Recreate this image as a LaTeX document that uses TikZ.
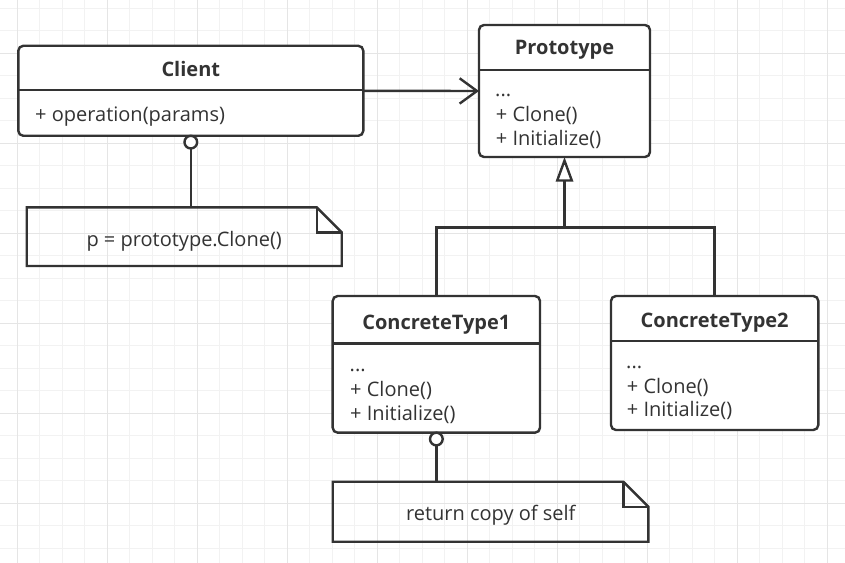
\documentclass[tikz,border=0pt]{standalone}
\usepackage{fontspec}
\setmainfont{Open Sans}
\usetikzlibrary{arrows.meta,calc}
\definecolor{ink}{HTML}{333333}
\definecolor{gridminor}{HTML}{F2F2F2}
\definecolor{gridmajor}{HTML}{E5E5E5}
\begin{document}
\begin{tikzpicture}[x=0.75pt,y=-0.75pt,
  line width=1.8pt,
  classbox/.style={draw=ink, rounded corners=3.75pt, fill=white, inner sep=0pt, outer sep=0pt},
  notebox/.style={inner sep=0pt, outer sep=0pt},
  notetext/.style={font=\fontsize{15}{18}\selectfont, anchor=base, inner sep=0pt, text=ink},
  aggcircle/.style={circle, draw=ink, fill=white, inner sep=0pt, outer sep=0pt, minimum size=9.5pt},
  titletext/.style={font=\fontsize{15}{18}\selectfont\bfseries, anchor=base, inner sep=0pt, text=ink},
  itemtext/.style={font=\fontsize{15}{18}\selectfont, anchor=base west, inner sep=0pt, text=ink},
  link/.style={draw=ink, line width=1.8pt},
]
\useasboundingbox (0,0) rectangle (845,563);
\fill[white] (0,0) rectangle (845,563);
\begin{scope}
\clip (0,0) rectangle (845,563);
\foreach \i in {-1,...,37} {
  \pgfmathsetmacro\gx{17.3+22.5*\i}
  \draw[gridminor, line width=0.75pt] (\gx,0) -- (\gx,563);
}
\foreach \j in {-1,...,25} {
  \pgfmathsetmacro\gy{8.3+22.5*\j}
  \draw[gridminor, line width=0.75pt] (0,\gy) -- (845,\gy);
}
\foreach \i in {0,...,9} {
  \pgfmathsetmacro\gx{17.3+90*\i}
  \draw[gridmajor, line width=0.9pt] (\gx,0) -- (\gx,563);
}
\foreach \j in {-1,...,6} {
  \pgfmathsetmacro\gy{53.3+90*\j}
  \draw[gridmajor, line width=0.9pt] (0,\gy) -- (845,\gy);
}
\end{scope}

% class boxes
\node[classbox, minimum width=258.75pt, minimum height=67.5pt] (client) at (190.8,90.8) {};
\node[classbox, minimum width=128.25pt, minimum height=99pt] (prototype) at (564.5,91) {};
\node[classbox, minimum width=155.5pt, minimum height=102.5pt] (ct1) at (436.35,364.35) {};
\node[classbox, minimum width=155.5pt, minimum height=100.5pt] (ct2) at (714.65,363) {};

% dividers
\draw[ink] ([yshift=-33.2pt]client.north west) -- ([yshift=-33.2pt]client.north east);
\draw[ink] ([yshift=-33.75pt]prototype.north west) -- ([yshift=-33.75pt]prototype.north east);
\draw[ink] ([yshift=-35.5pt]ct1.north west) -- ([yshift=-35.5pt]ct1.north east);
\draw[ink] ([yshift=-33.75pt]ct2.north west) -- ([yshift=-33.75pt]ct2.north east);

% titles
\node[titletext] (tclient) at (190.8,77) {Client};
\node[titletext] (tproto) at (564.5,55) {Prototype};
\node[titletext] (tct1) at (436.35,329) {ConcreteType1};
\node[titletext] (tct2) at (714.65,327) {ConcreteType2};

% members
\node[itemtext] (mclient) at (34,122) {+ operation(params)};
\node[itemtext] (p1) at (494,97) {...};
\node[itemtext] (p2) at (494.7,121.5) {+ Clone()};
\node[itemtext] (p3) at (494.7,146) {+ Initialize()};
\node[itemtext] (a1) at (348.5,371.5) {...};
\node[itemtext] (a2) at (349,396.5) {+ Clone()};
\node[itemtext] (a3) at (349,420) {+ Initialize()};
\node[itemtext] (b1) at (625,368.7) {...};
\node[itemtext] (b2) at (625.7,393.3) {+ Clone()};
\node[itemtext] (b3) at (625.7,416.7) {+ Initialize()};

% notes
\node[notebox, minimum width=236.25pt, minimum height=44pt] (n1) at (184.2,236.65) {};
\node[notebox, minimum width=236.7pt, minimum height=45pt] (n2) at (490.5,511.7) {};
\foreach \n in {n1,n2} {
  \draw[ink, line join=miter] (\n.north west) -- ($(\n.north east)+(-25,0)$) -- ($(\n.north east)+(0,25)$) -- (\n.south east) -- (\n.south west) -- cycle;
  \draw[ink, line join=miter] ($(\n.north east)+(-25,0)$) -- ($(\n.north east)+(-25,25)$) -- ($(\n.north east)+(0,25)$);
}
\node[notetext] (n1text) at (184.2,246.5) {p = prototype.Clone()};
\node[notetext] (n2text) at (490.8,520) {return copy of self};

% association Client -> Prototype
\draw[link, -{Straight Barb[length=13pt, width=19pt, line width=1.8pt]}] (client.east) -- (prototype.west);

% aggregation circles to notes
\node[aggcircle, anchor=north] (c1) at (client.south) {};
\draw[link] (c1.south) -- (c1.south |- n1.north);
\node[aggcircle, anchor=north] (c2) at (ct1.south) {};
\draw[link] (c2.south) -- (c2.south |- n2.north);

% generalization
\coordinate (jy) at (0,227.5);
\draw[link] (ct1.north) -- (ct1.north |- jy) -- (ct2.north |- jy) -- (ct2.north);
\draw[link, -{Triangle[open, length=18.5pt, width=13pt, fill=white]}] (prototype.south |- jy) -- (prototype.south);
\end{tikzpicture}
\end{document}
